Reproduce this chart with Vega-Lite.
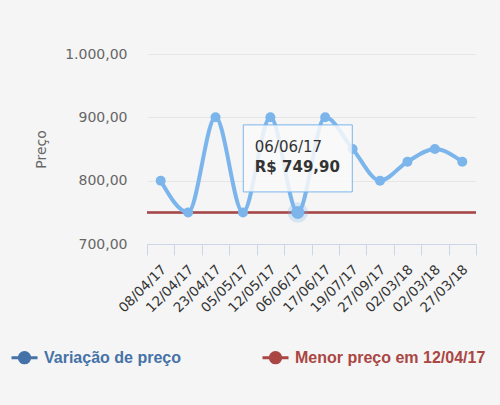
{
  "$schema": "https://vega.github.io/schema/vega-lite/v6.json",
  "width": 329,
  "height": 190,
  "autosize": "none",
  "padding": {"left": 147, "top": 54, "right": 24, "bottom": 161},
  "background": "#f5f5f5",
  "config": {
    "view": {"stroke": null},
    "font": "DejaVu Sans",
    "locale": {"number": {"decimal": ",", "thousands": ".", "grouping": [3], "currency": ["R$ ", ""]}}
  },
  "datasets": {
    "precos": [
      {"data": "08/04/17", "preco": 800},
      {"data": "12/04/17", "preco": 749.9},
      {"data": "23/04/17", "preco": 900},
      {"data": "05/05/17", "preco": 749.9},
      {"data": "12/05/17", "preco": 900},
      {"data": "06/06/17", "preco": 749.9},
      {"data": "17/06/17", "preco": 900},
      {"data": "19/07/17", "preco": 850},
      {"data": "27/09/17", "preco": 800},
      {"data": "02/03/18", "preco": 830},
      {"data": "02/03/18\u200b", "preco": 850},
      {"data": "27/03/18", "preco": 830}
    ],
    "menor": [
      {"preco": 749.9}
    ],
    "dica": [
      {"data": "06/06/17", "preco": 749.9, "titulo": "06/06/17", "valor": "R$ 749,90"}
    ]
  },
  "encoding": {
    "color": {
      "scale": {"domain": ["Variação de preço", "Menor preço em 12/04/17"], "range": ["#4572a7", "#aa4643"]},
      "legend": {
        "orient": "none", "legendX": -137, "legendY": 289, "direction": "horizontal",
        "title": null,
        "symbolType": "M-1,0H1M-0.4,0A0.4,0.4,0,1,0,0.4,0A0.4,0.4,0,1,0,-0.4,0Z",
        "symbolSize": 676, "symbolStrokeWidth": 3,
        "labelFont": "Liberation Sans", "labelFontSize": 16, "labelFontWeight": "bold",
        "labelOffset": 5, "columnPadding": 75, "labelLimit": 400,
        "encode": {
          "labels": {"update": {"fill": {"signal": "datum.value === 'Variação de preço' ? '#4572a7' : '#aa4643'"}}},
          "symbols": {"update": {"fill": {"signal": "datum.value === 'Variação de preço' ? '#4572a7' : '#aa4643'"}, "strokeWidth": {"value": 3}}}
        }
      }
    }
  },
  "layer": [
    {
      "data": {"name": "menor"},
      "mark": {"type": "rule", "strokeWidth": 1.5},
      "encoding": {
        "y": {"field": "preco", "type": "quantitative"},
        "color": {"datum": "Variação de preço"}
      }
    },
    {
      "data": {"name": "menor"},
      "mark": {"type": "rule", "strokeWidth": 2.5},
      "encoding": {
        "y": {"field": "preco", "type": "quantitative"},
        "color": {"datum": "Menor preço em 12/04/17"}
      }
    },
    {
      "data": {"name": "precos"},
      "mark": {"type": "line", "interpolate": "monotone", "strokeWidth": 4, "color": "#7cb5ec", "point": {"filled": true, "size": 100, "opacity": 1, "color": "#7cb5ec"}},
      "encoding": {
        "x": {
          "field": "data", "type": "ordinal", "sort": null,
          "scale": {"paddingInner": 0, "paddingOuter": 0},
          "axis": {
            "title": null, "labelAngle": -45, "labelAlign": "right", "labelBaseline": "middle",
            "labelFontSize": 13.5, "labelColor": "#333", "labelPadding": 12, "labelOffset": 3,
            "tickBand": "extent", "tickSize": 11, "tickColor": "#ccd6eb", "domainColor": "#ccd6eb",
            "grid": false
          }
        },
        "y": {
          "field": "preco", "type": "quantitative",
          "scale": {"domain": [700, 1000], "nice": false, "zero": false},
          "axis": {
            "title": "Preço", "titleColor": "#666", "titleFont": "DejaVu Sans", "titleFontSize": 14,
            "titleFontWeight": "normal", "titlePadding": 16,
            "labelColor": "#666", "labelFontSize": 14, "labelPadding": 20,
            "ticks": false, "domain": false, "grid": true, "gridColor": "#e6e6e6",
            "values": [700, 800, 900, 1000], "format": ",.2f"
          }
        }
      }
    },
    {
      "data": {"name": "dica"},
      "mark": {"type": "point", "filled": true, "size": 420, "opacity": 0.25, "color": "#7cb5ec"},
      "encoding": {
        "x": {"field": "data", "type": "ordinal", "sort": null},
        "y": {"field": "preco", "type": "quantitative"}
      }
    },
    {
      "data": {"name": "dica"},
      "mark": {"type": "point", "filled": true, "size": 170, "opacity": 1, "color": "#7cb5ec"},
      "encoding": {
        "x": {"field": "data", "type": "ordinal", "sort": null},
        "y": {"field": "preco", "type": "quantitative"}
      }
    },
    {
      "data": {"name": "dica"},
      "mark": {
        "type": "point", "shape": "M-1,-0.615H1V0.615H-1Z", "size": 11881,
        "filled": true, "fill": "#f9f9f9", "fillOpacity": 0.85, "stroke": "#7cb5ec", "strokeWidth": 1, "opacity": 1,
        "xOffset": 0, "yOffset": -54
      },
      "encoding": {
        "x": {"field": "data", "type": "ordinal", "sort": null},
        "y": {"field": "preco", "type": "quantitative"}
      }
    },
    {
      "data": {"name": "dica"},
      "mark": {"type": "text", "align": "left", "baseline": "alphabetic", "dx": -43, "dy": -60, "fontSize": 15, "color": "#333", "font": "DejaVu Sans"},
      "encoding": {
        "x": {"field": "data", "type": "ordinal", "sort": null},
        "y": {"field": "preco", "type": "quantitative"},
        "text": {"field": "titulo"}
      }
    },
    {
      "data": {"name": "dica"},
      "mark": {"type": "text", "align": "left", "baseline": "alphabetic", "dx": -43, "dy": -40, "fontSize": 15, "fontWeight": "bold", "color": "#333", "font": "DejaVu Sans"},
      "encoding": {
        "x": {"field": "data", "type": "ordinal", "sort": null},
        "y": {"field": "preco", "type": "quantitative"},
        "text": {"field": "valor"}
      }
    }
  ]
}
